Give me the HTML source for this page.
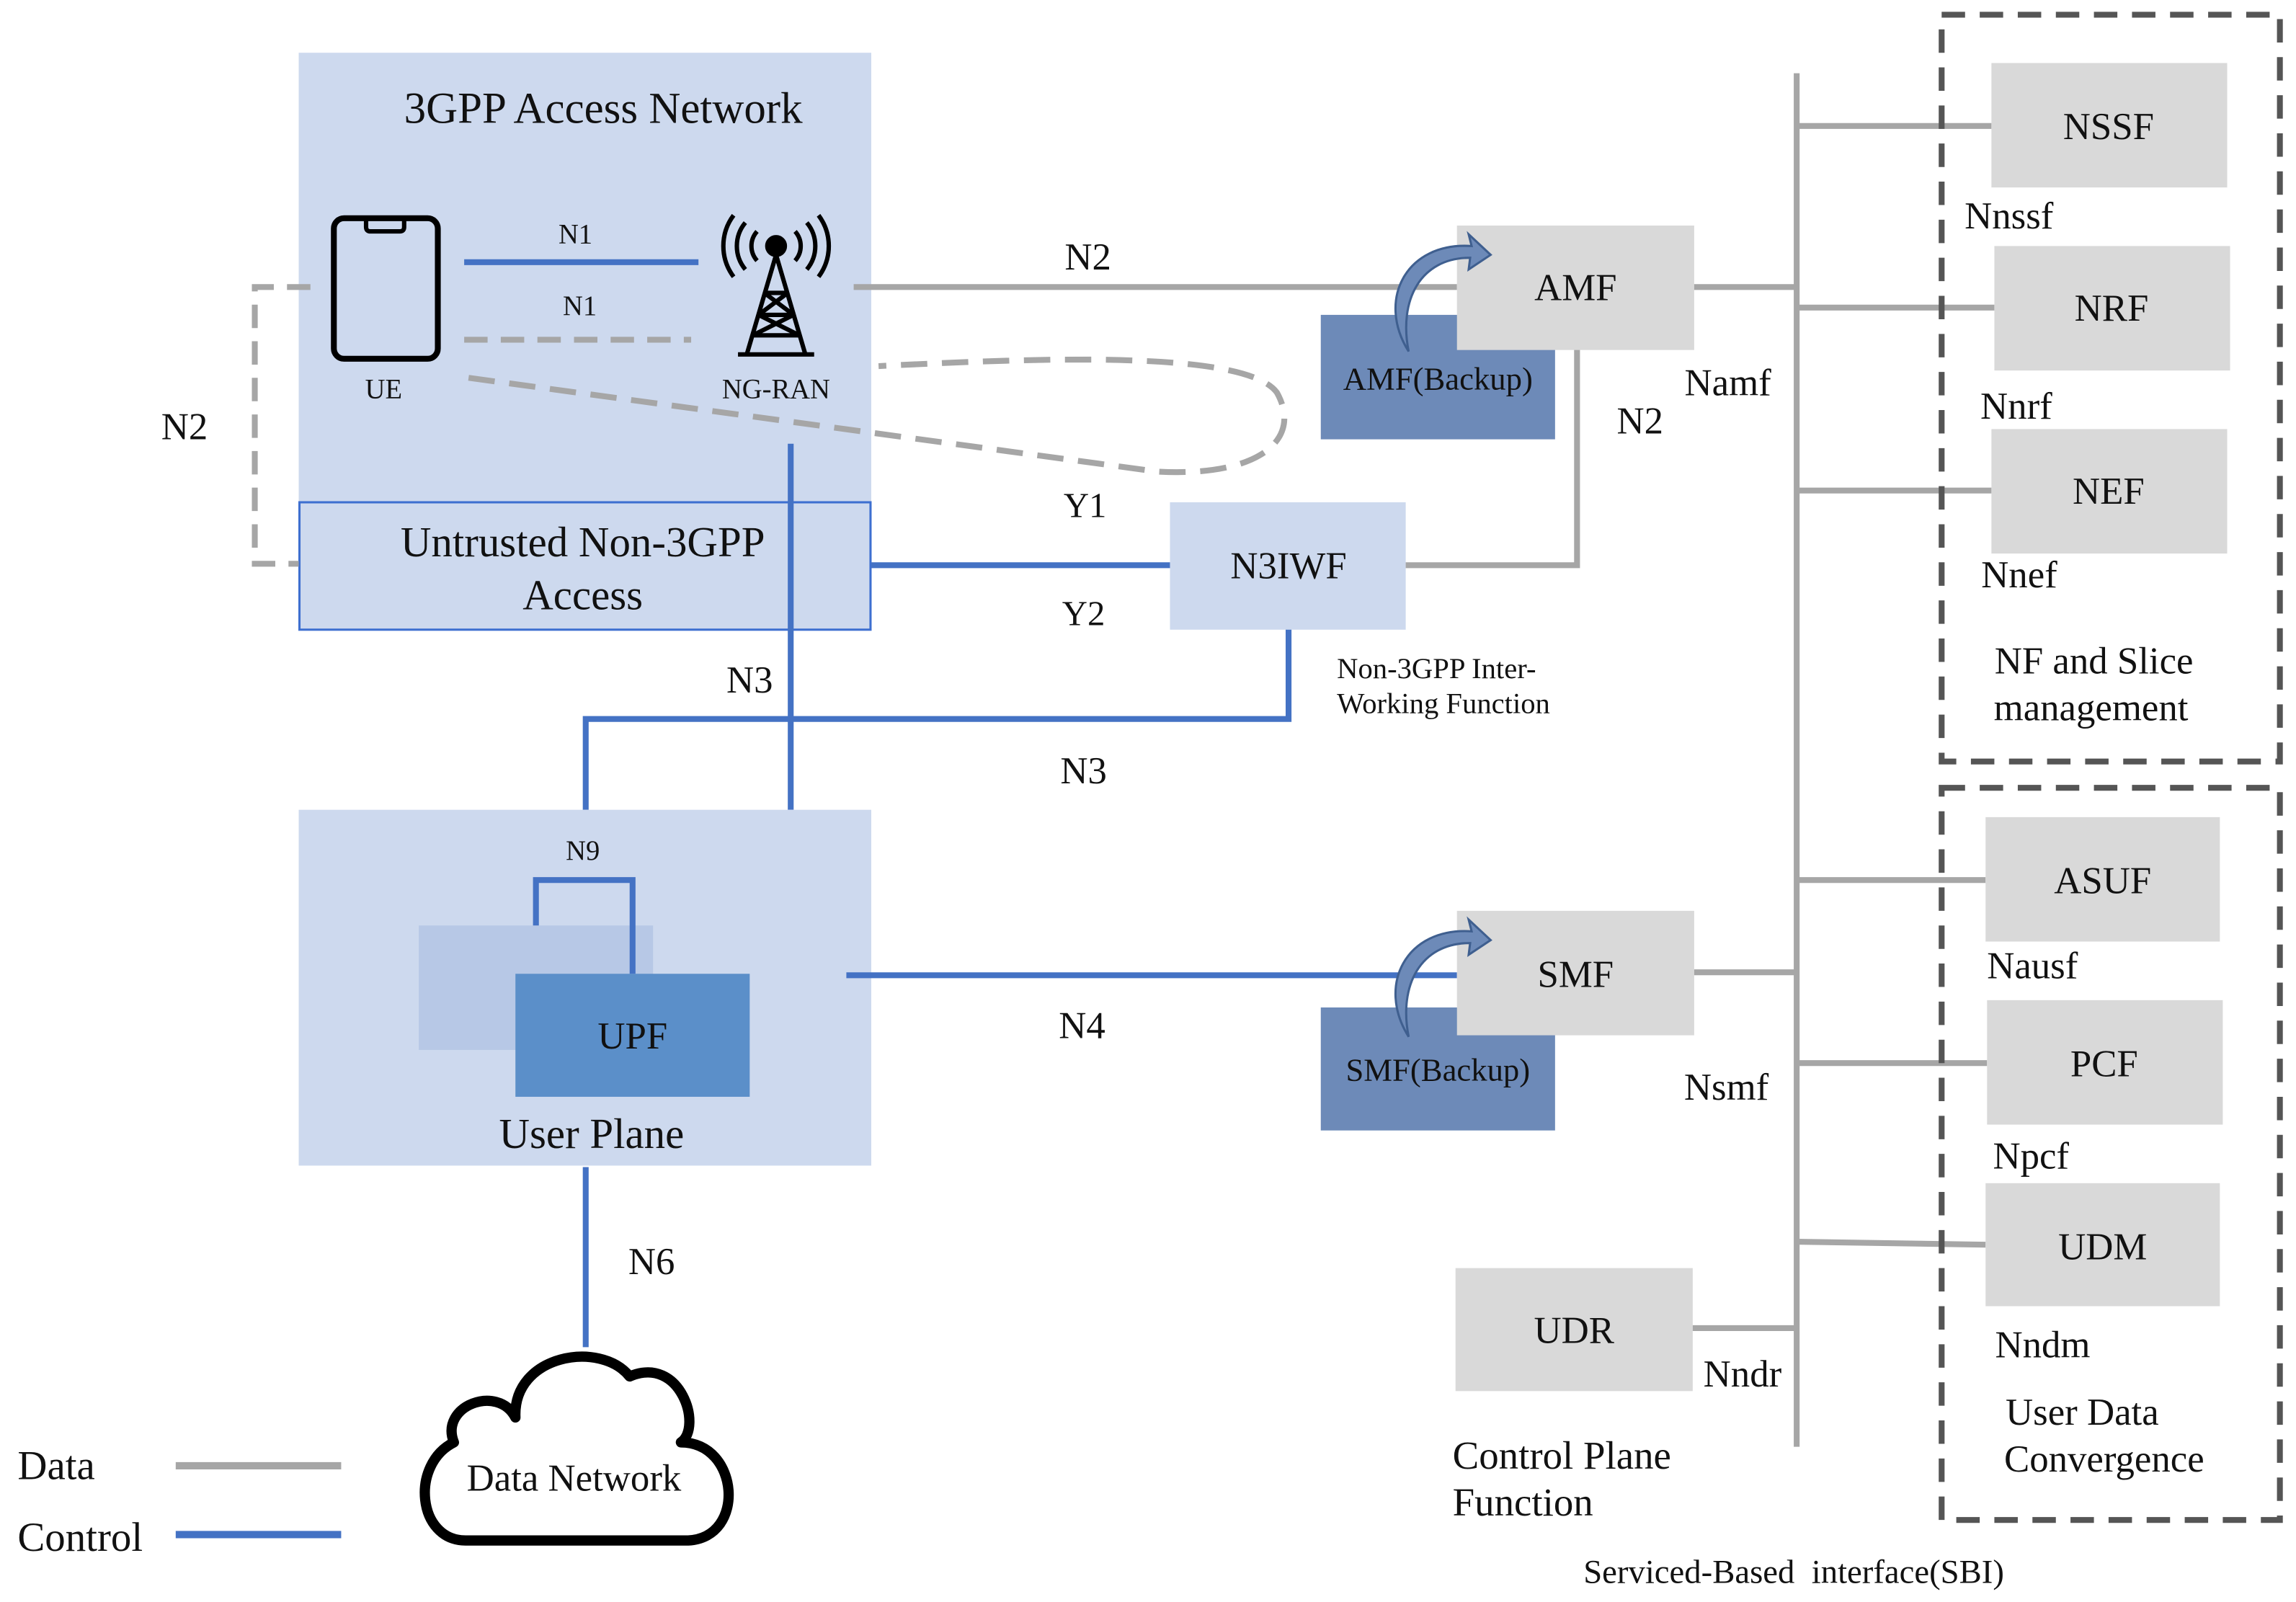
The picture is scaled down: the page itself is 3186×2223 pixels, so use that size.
<!DOCTYPE html>
<html><head><meta charset="utf-8"><style>
html,body{margin:0;padding:0;background:#fff;}
svg{display:block;}
text{font-family:"Liberation Serif",serif;fill:#111;}
</style></head><body>
<svg width="3186" height="2223" viewBox="0 0 1568 1094" xmlns="http://www.w3.org/2000/svg">
<rect width="1568" height="1094" fill="#fff"/>
<rect x="204" y="36" width="391" height="307" fill="#cdd9ee"/>
<rect x="204.5" y="343" width="390" height="87" fill="#cdd9ee" stroke="#3d6fd0" stroke-width="1.5"/>
<text x="412" y="84" font-size="30" text-anchor="middle">3GPP Access Network</text>
<text x="398" y="380" font-size="29" text-anchor="middle">Untrusted Non-3GPP</text>
<text x="398" y="416" font-size="29" text-anchor="middle">Access</text>
<rect x="228" y="149" width="71" height="96" rx="7" fill="none" stroke="#000" stroke-width="4"/>
<path d="M250 149 v6 q0 3 3 3 h20 q3 0 3 -3 v-6" fill="none" stroke="#000" stroke-width="3"/>
<text x="262" y="272" font-size="19" text-anchor="middle">UE</text>
<g stroke="#000" stroke-width="3" fill="none">
<circle cx="530" cy="168" r="6" fill="#000"/>
<path d="M530 174 L510 242 M530 174 L550 242 M504 242 H556 M522 200 H538 M518 215 H542 M514 229 H546 M522 200 L542 215 M538 200 L518 215 M518 215 L546 229 M542 215 L514 229"/>
<path d="M517 158 a15 15 0 0 0 0 20 M543 158 a15 15 0 0 1 0 20 M509 152 a25 25 0 0 0 0 32 M551 152 a25 25 0 0 1 0 32 M501 147 a35 35 0 0 0 0 42 M559 147 a35 35 0 0 1 0 42"/>
</g>
<text x="530" y="272" font-size="19" text-anchor="middle">NG-RAN</text>
<line x1="317" y1="179" x2="477" y2="179" stroke="#4472c4" stroke-width="4"/>
<text x="393" y="166" font-size="19" text-anchor="middle">N1</text>
<line x1="317" y1="232" x2="472" y2="232" stroke="#a6a6a6" stroke-width="4" stroke-dasharray="16 9"/>
<text x="396" y="215" font-size="19" text-anchor="middle">N1</text>
<line x1="583" y1="196" x2="995" y2="196" stroke="#a6a6a6" stroke-width="4"/>
<text x="743" y="184" font-size="26" text-anchor="middle">N2</text>
<path d="M320 258 L790 322 C860 326 890 300 872 268 C850 238 700 245 600 250" fill="none" stroke="#a6a6a6" stroke-width="4" stroke-dasharray="18 10"/>
<path d="M212 196 H174 V385 H204" fill="none" stroke="#a6a6a6" stroke-width="4" stroke-dasharray="16 9"/>
<text x="126" y="300" font-size="26" text-anchor="middle">N2</text>
<line x1="540" y1="303" x2="540" y2="553" stroke="#4472c4" stroke-width="4"/>
<line x1="595" y1="386" x2="800" y2="386" stroke="#4472c4" stroke-width="4"/>
<text x="741" y="353" font-size="24" text-anchor="middle">Y1</text>
<text x="740" y="427" font-size="24" text-anchor="middle">Y2</text>
<rect x="799" y="343" width="161" height="87" fill="#cdd9ee"/>
<text x="880" y="395" font-size="26" text-anchor="middle">N3IWF</text>
<path d="M960 386 H1077 V238" fill="none" stroke="#a6a6a6" stroke-width="4"/>
<text x="1120" y="296" font-size="26" text-anchor="middle">N2</text>
<text x="913" y="463" font-size="20">Non-3GPP Inter-</text>
<text x="913" y="487" font-size="20">Working Function</text>
<path d="M880 430 V491 H400 V553" fill="none" stroke="#4472c4" stroke-width="4"/>
<text x="512" y="473" font-size="26" text-anchor="middle">N3</text>
<text x="740" y="535" font-size="26" text-anchor="middle">N3</text>
<rect x="204" y="553" width="391" height="243" fill="#cdd9ee"/>
<rect x="286" y="632" width="160" height="85" fill="#b7c8e6"/>
<rect x="352" y="665" width="160" height="84" fill="#5b8fc9"/>
<path d="M366 632 V601 H432 V665" fill="none" stroke="#4472c4" stroke-width="4"/>
<text x="398" y="587" font-size="19" text-anchor="middle">N9</text>
<text x="432" y="716" font-size="26" text-anchor="middle">UPF</text>
<text x="404" y="784" font-size="29" text-anchor="middle">User Plane</text>
<line x1="578" y1="666" x2="995" y2="666" stroke="#4472c4" stroke-width="4"/>
<text x="739" y="709" font-size="26" text-anchor="middle">N4</text>
<line x1="400" y1="797" x2="400" y2="920" stroke="#4472c4" stroke-width="4"/>
<text x="445" y="870" font-size="26" text-anchor="middle">N6</text>
<path d="M318 1052 C285 1052 280 1000 310 985 C300 960 340 945 352 968 C350 925 410 915 430 940 C465 925 480 975 465 985 C505 985 510 1050 470 1052 Z" fill="#fff" stroke="#000" stroke-width="7" stroke-linejoin="round"/>
<text x="392" y="1018" font-size="26" text-anchor="middle">Data Network</text>
<text x="12" y="1010" font-size="28">Data</text>
<line x1="120" y1="1001" x2="233" y2="1001" stroke="#a6a6a6" stroke-width="5"/>
<text x="12" y="1059" font-size="28">Control</text>
<line x1="120" y1="1048" x2="233" y2="1048" stroke="#4472c4" stroke-width="5"/>
<rect x="902" y="215" width="160" height="85" fill="#6d8ab8"/>
<rect x="995" y="154" width="162" height="85" fill="#d9d9d9"/>
<text x="1076" y="205" font-size="26" text-anchor="middle">AMF</text>
<text x="982" y="266" font-size="22" text-anchor="middle">AMF(Backup)</text>
<path d="M962 240 C940 205 960 165 1005 168 L1003 160 L1018 174 L1003 184 L1004 176 C970 176 955 205 962 240 Z" fill="#6d8ab8" stroke="#3f5f8f" stroke-width="1.5"/>
<rect x="902" y="688" width="160" height="84" fill="#6d8ab8"/>
<rect x="995" y="622" width="162" height="85" fill="#d9d9d9"/>
<text x="1076" y="674" font-size="26" text-anchor="middle">SMF</text>
<text x="982" y="738" font-size="22" text-anchor="middle">SMF(Backup)</text>
<path d="M962 708 C940 673 960 633 1005 636 L1003 628 L1018 642 L1003 652 L1004 644 C970 644 955 673 962 708 Z" fill="#6d8ab8" stroke="#3f5f8f" stroke-width="1.5"/>
<rect x="994" y="866" width="162" height="84" fill="#d9d9d9"/>
<text x="1075" y="917" font-size="26" text-anchor="middle">UDR</text>
<g stroke="#a6a6a6" stroke-width="4" fill="none">
<line x1="1227" y1="50" x2="1227" y2="988"/>
<line x1="1157" y1="196" x2="1227" y2="196"/>
<line x1="1157" y1="664" x2="1227" y2="664"/>
<line x1="1156" y1="907" x2="1227" y2="907"/>
<line x1="1227" y1="86" x2="1360" y2="86"/>
<line x1="1227" y1="210" x2="1362" y2="210"/>
<line x1="1227" y1="335" x2="1360" y2="335"/>
<line x1="1227" y1="601" x2="1356" y2="601"/>
<line x1="1227" y1="726" x2="1357" y2="726"/>
<line x1="1227" y1="848" x2="1356" y2="850"/>
</g>
<text x="1180" y="270" font-size="26" text-anchor="middle">Namf</text>
<text x="1179" y="751" font-size="26" text-anchor="middle">Nsmf</text>
<text x="1190" y="947" font-size="26" text-anchor="middle">Nndr</text>
<g fill="#d9d9d9">
<rect x="1360" y="43" width="161" height="85"/>
<rect x="1362" y="168" width="161" height="85"/>
<rect x="1360" y="293" width="161" height="85"/>
<rect x="1356" y="558" width="160" height="85"/>
<rect x="1357" y="683" width="161" height="85"/>
<rect x="1356" y="808" width="160" height="84"/>
</g>
<g font-size="26" text-anchor="middle">
<text x="1440" y="95">NSSF</text>
<text x="1442" y="219">NRF</text>
<text x="1440" y="344">NEF</text>
<text x="1436" y="610">ASUF</text>
<text x="1437" y="735">PCF</text>
<text x="1436" y="860">UDM</text>
<text x="1372" y="156">Nnssf</text>
<text x="1377" y="286">Nnrf</text>
<text x="1379" y="401">Nnef</text>
<text x="1388" y="668">Nausf</text>
<text x="1387" y="798">Npcf</text>
<text x="1395" y="927">Nndm</text>
<text x="1430" y="460">NF and Slice</text>
<text x="1428" y="492">management</text>
<text x="1422" y="973">User Data</text>
<text x="1437" y="1005">Convergence</text>
</g>
<rect x="1326" y="10" width="231" height="510" fill="none" stroke="#555" stroke-width="4" stroke-dasharray="16 10"/>
<rect x="1326" y="538" width="231" height="500" fill="none" stroke="#555" stroke-width="4" stroke-dasharray="16 10"/>
<text x="992" y="1003" font-size="27">Control Plane</text>
<text x="992" y="1035" font-size="27">Function</text>
<text x="1225" y="1081" font-size="23" text-anchor="middle" xml:space="preserve">Serviced-Based  interface(SBI)</text>
</svg>
</body></html>
